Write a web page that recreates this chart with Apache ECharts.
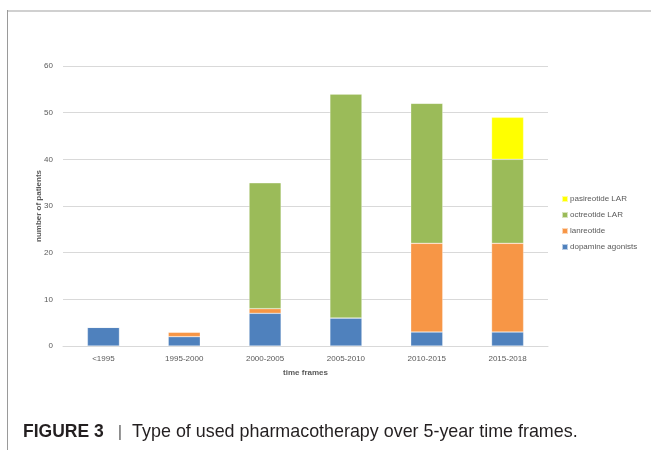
<!DOCTYPE html>
<html>
<head>
<meta charset="utf-8">
<script src="https://cdn.jsdelivr.net/npm/echarts@6/dist/echarts.min.js"></script>
<style>
  html, body { margin: 0; padding: 0; background: #fff; }
  #chart { width: 651px; height: 450px; }
</style>
</head>
<body>
<div id="chart"></div>
<script>
// Patients by treatment type in each 5-year time frame
const categories = ['<1995', '1995-2000', '2000-2005', '2005-2010', '2010-2015', '2015-2018'];
const dopamineAgonists = [4, 2, 7, 6, 3, 3];
const lanreotide = [0, 1, 1, 0, 19, 19];
const octreotideLAR = [0, 0, 27, 48, 30, 18];
const pasireotideLAR = [0, 0, 0, 0, 0, 9];
const yTicks = { min: 0, max: 60, interval: 10 };

const chart = echarts.init(document.getElementById('chart'), null, { renderer: 'canvas' });
const axisFont = 'Liberation Sans, Arial, sans-serif';

function stackSeries(name, data, color) {
  return {
    name: name,
    type: 'bar',
    stack: 'total',
    data: data,
    barWidth: 32,
    itemStyle: { color: color, borderColor: 'rgba(255,255,255,0.6)', borderWidth: 0.5 },
    emphasis: { disabled: true }
  };
}

chart.setOption({
  animation: false,
  textStyle: { fontFamily: axisFont },
  grid: { left: 63, right: 103, top: 66, bottom: 104 },
  legend: {
    orient: 'vertical',
    left: 561,
    top: 195,
    padding: 0,
    itemWidth: 6,
    itemHeight: 6,
    itemGap: 8,
    icon: 'rect',
    data: ['pasireotide LAR', 'octreotide LAR', 'lanreotide', 'dopamine agonists'],
    textStyle: { fontSize: 8, color: '#595959', padding: [0, 0, 0, -3] }
  },
  xAxis: {
    type: 'category',
    data: categories,
    name: 'time frames',
    nameLocation: 'middle',
    nameGap: 23,
    nameMoveOverlap: false,
    nameTextStyle: { fontSize: 8, fontWeight: 'bold', color: '#595959' },
    axisLine: { lineStyle: { color: '#d9d9d9' } },
    axisTick: { show: false },
    axisLabel: { fontSize: 8, color: '#595959', margin: 9 }
  },
  yAxis: {
    type: 'value',
    min: yTicks.min,
    max: yTicks.max,
    interval: yTicks.interval,
    name: 'number of patients',
    nameLocation: 'middle',
    nameGap: 20,
    nameMoveOverlap: false,
    nameTextStyle: { fontSize: 8, fontWeight: 'bold', color: '#595959' },
    axisLine: { show: false },
    axisTick: { show: false },
    axisLabel: { fontSize: 8, color: '#595959', margin: 10 },
    splitLine: { lineStyle: { color: '#d9d9d9', width: 1 } }
  },
  series: [
    stackSeries('dopamine agonists', dopamineAgonists, '#4f81bd'),
    stackSeries('lanreotide', lanreotide, '#f79646'),
    stackSeries('octreotide LAR', octreotideLAR, '#9bbb59'),
    stackSeries('pasireotide LAR', pasireotideLAR, '#ffff00')
  ],
  graphic: [
    { type: 'line', silent: true, shape: { x1: 7, y1: 11, x2: 651, y2: 11 }, style: { stroke: '#d0d0d0', lineWidth: 2 } },
    { type: 'line', silent: true, shape: { x1: 7.5, y1: 10, x2: 7.5, y2: 450 }, style: { stroke: '#9a9a9a', lineWidth: 1 } },
    {
      type: 'text',
      left: 23,
      top: 423,
      style: {
        text: '{b|FIGURE 3}{s||}{n|Type of used pharmacotherapy over 5-year time frames.}',
        rich: {
          b: { fontFamily: 'Liberation Sans, Arial, sans-serif', fontWeight: 'bold', fontSize: 17.5, fill: '#231f20' },
          s: { fontFamily: 'Liberation Sans, Arial, sans-serif', fontSize: 17, fill: '#666666', padding: [0, 10, 0, 14] },
          n: { fontFamily: 'Liberation Sans, Arial, sans-serif', fontSize: 17.9, fill: '#231f20' }
        }
      }
    }
  ]
});
</script>
</body>
</html>
